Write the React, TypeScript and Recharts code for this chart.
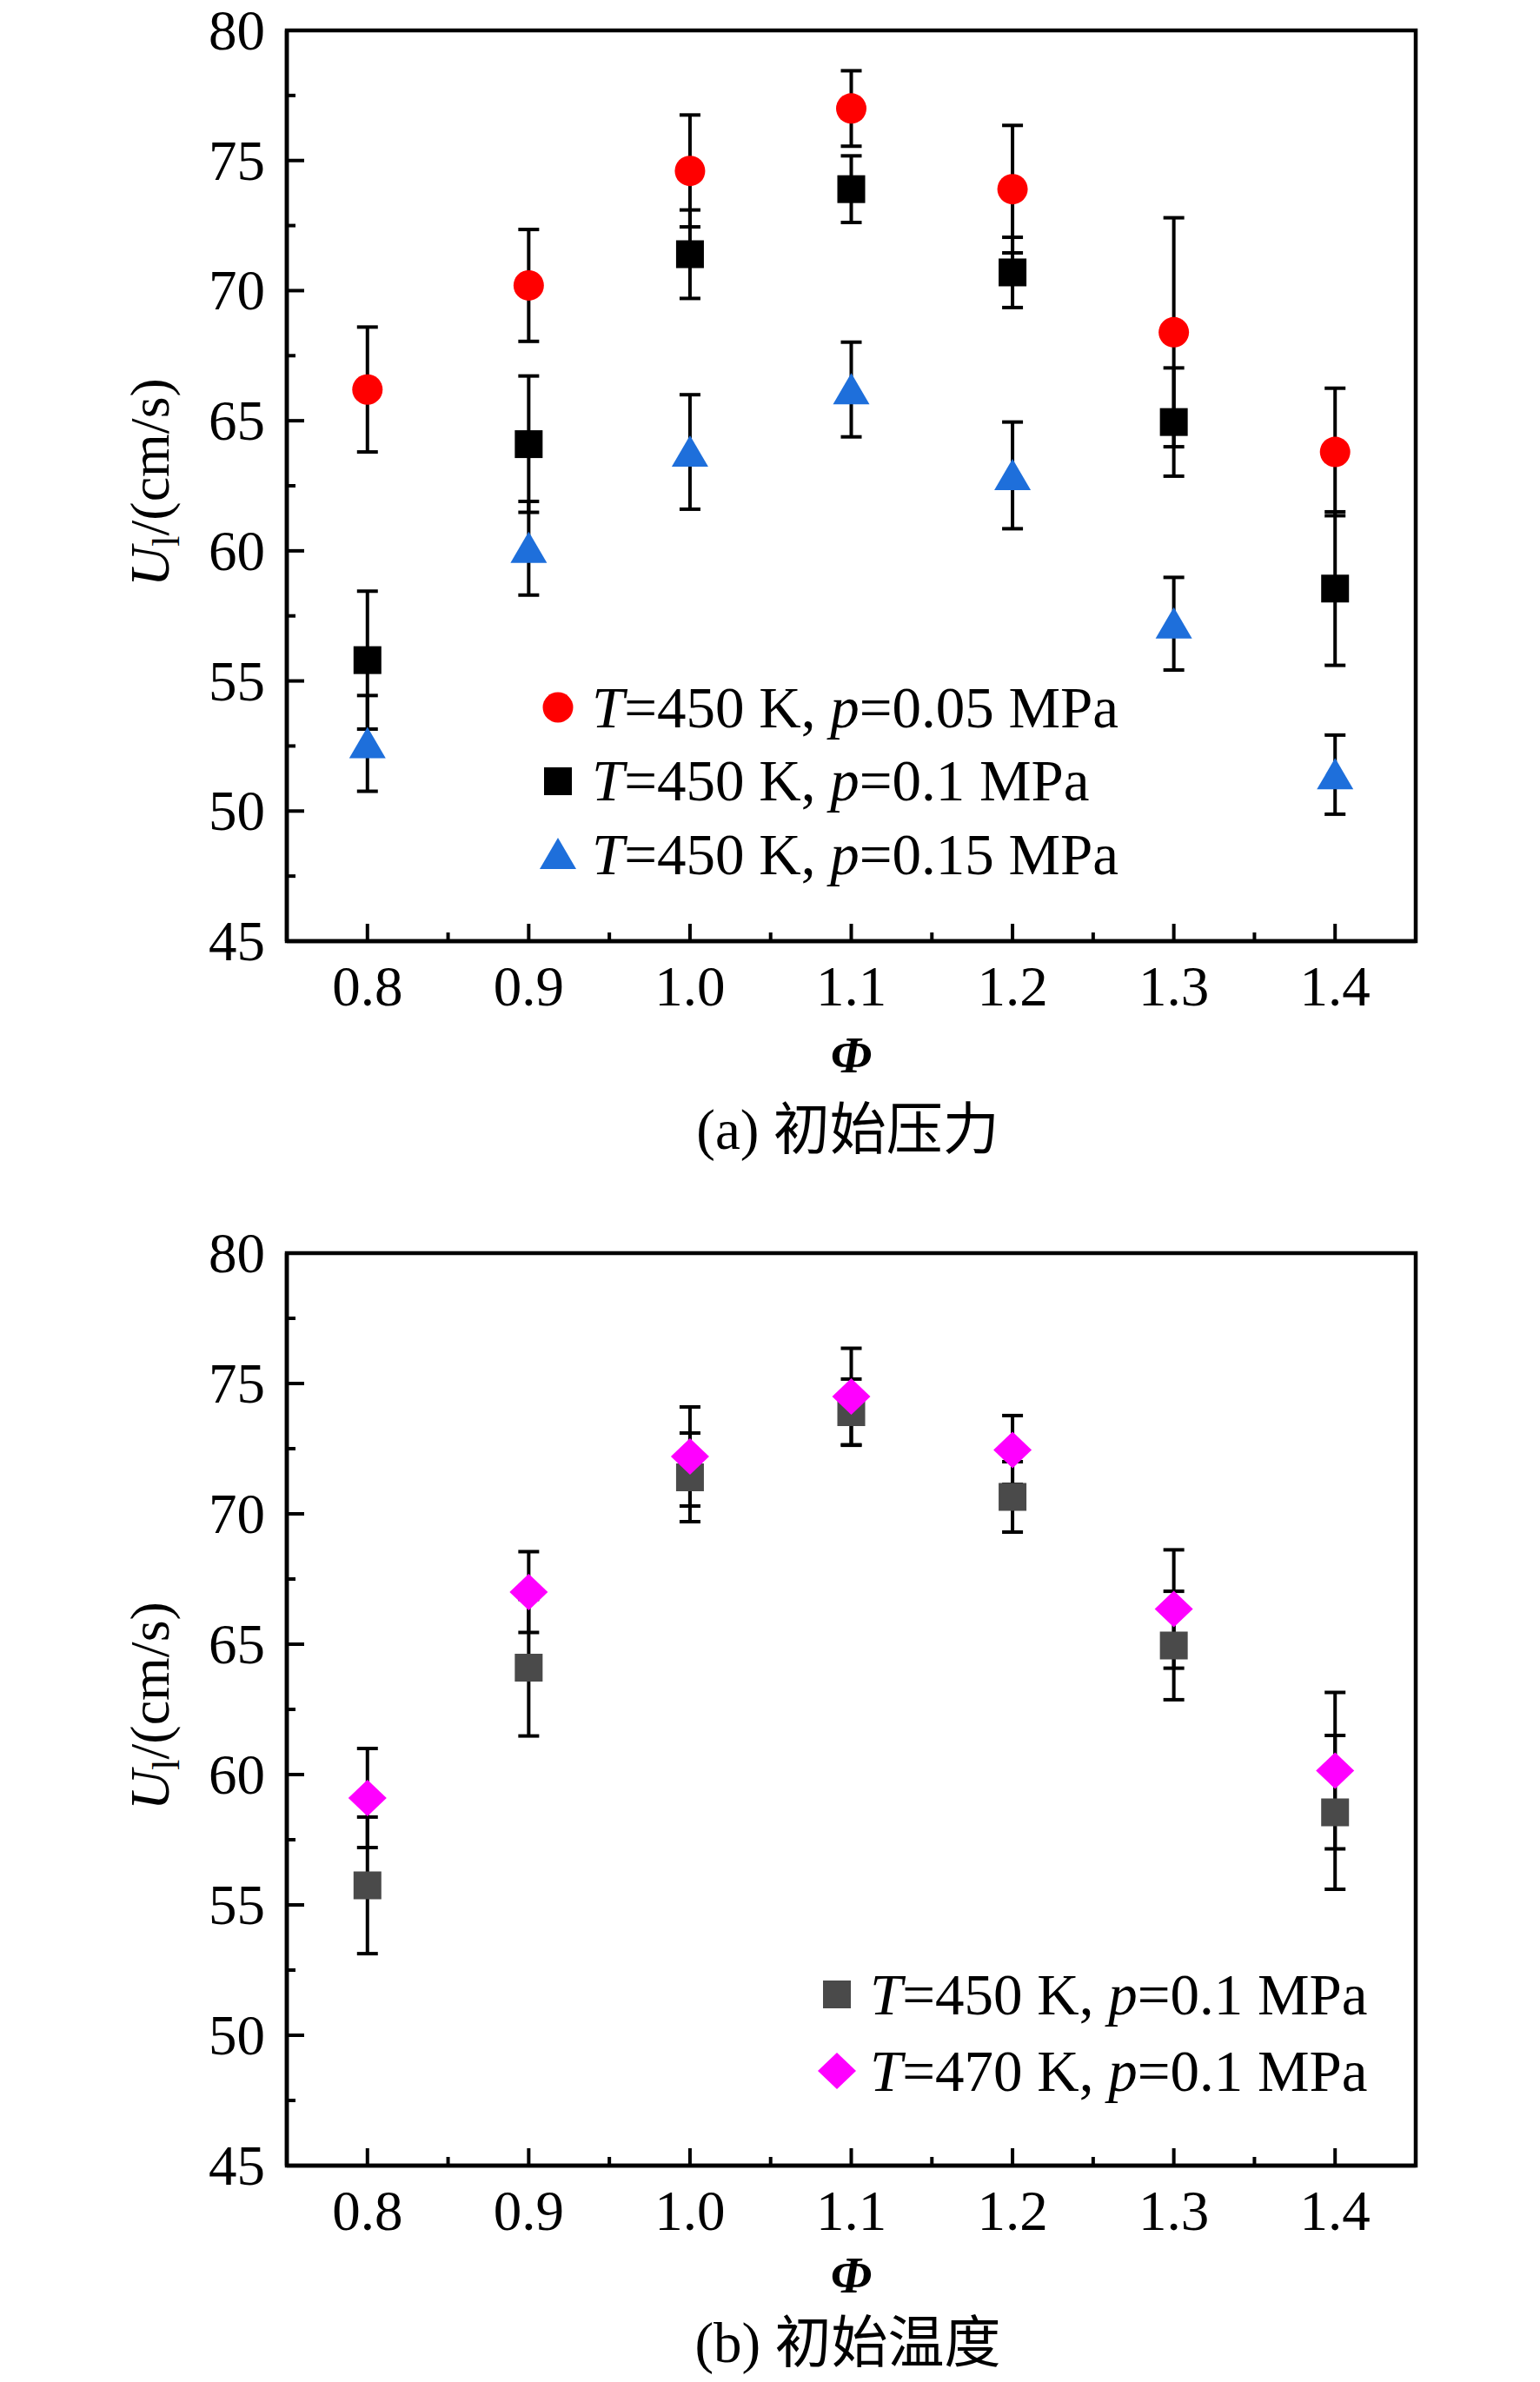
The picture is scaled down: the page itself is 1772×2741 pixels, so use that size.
import React from 'react';
import { ScatterChart, Scatter, XAxis, YAxis, ErrorBar, Legend, Label, ReferenceArea } from 'recharts';

const phi = [0.8, 0.9, 1.0, 1.1, 1.2, 1.3, 1.4];

// (a) 初始压力, T = 450 K
const ulP005 = [66.2, 70.2, 74.6, 77.0, 73.9, 68.4, 63.8];
const errP005 = [2.4, 2.15, 2.15, 1.45, 2.45, 4.4, 2.45];
const ulP01 = [55.8, 64.1, 71.4, 73.9, 70.7, 64.95, 58.55];
const errP01 = [2.65, 2.62, 1.7, 1.28, 1.35, 2.08, 2.95];
const ulP015 = [52.6, 60.1, 63.8, 66.2, 62.9, 57.2, 51.4];
const errP015 = [1.84, 1.8, 2.2, 1.82, 2.05, 1.78, 1.52];

// (b) 初始温度, p = 0.1 MPa
const ulT450 = [55.75, 64.1, 71.4, 73.9, 70.65, 64.95, 58.55];
const errT450 = [2.62, 2.62, 1.7, 1.27, 1.35, 2.08, 2.95];
const ulT470 = [59.1, 67.0, 72.2, 74.5, 72.45, 66.35, 60.15];
const errT470 = [1.9, 1.55, 1.9, 1.85, 1.32, 2.27, 3.0];

const xTicks = [0.8, 0.85, 0.9, 0.95, 1.0, 1.05, 1.1, 1.15, 1.2, 1.25, 1.3, 1.35, 1.4];
const yTicks = [45, 47.5, 50, 52.5, 55, 57.5, 60, 62.5, 65, 67.5, 70, 72.5, 75, 77.5, 80];

const SERIF = "'Liberation Serif', 'Times New Roman', serif";
const CJK = "'Liberation Serif', 'Noto Sans CJK SC', serif";

const rows = (ys: number[], errs: number[]) =>
  phi.map((x, i) => ({ x, y: ys[i], err: errs[i] }));

type Kind = 'circle' | 'square' | 'triangle' | 'diamond';

const Marker = ({ kind, color, cx, cy }: { kind: Kind; color: string; cx: number; cy: number }) => {
  if (kind === 'circle') return <circle cx={cx} cy={cy} r={17.5} fill={color} />;
  if (kind === 'square') return <rect x={cx - 16} y={cy - 16} width={32} height={32} fill={color} />;
  if (kind === 'triangle')
    return <polygon points={`${cx},${cy - 19} ${cx - 21},${cy + 17} ${cx + 21},${cy + 17}`} fill={color} />;
  return <polygon points={`${cx},${cy - 21} ${cx + 22},${cy} ${cx},${cy + 21} ${cx - 22},${cy}`} fill={color} />;
};

const seriesA = [
  { name: 'T=450 K, p=0.05 MPa', data: rows(ulP005, errP005), kind: 'circle' as Kind, color: '#ff0000' },
  { name: 'T=450 K, p=0.1 MPa', data: rows(ulP01, errP01), kind: 'square' as Kind, color: '#000000' },
  { name: 'T=450 K, p=0.15 MPa', data: rows(ulP015, errP015), kind: 'triangle' as Kind, color: '#1e6fdb' },
];

const seriesB = [
  { name: 'T=450 K, p=0.1 MPa', data: rows(ulT450, errT450), kind: 'square' as Kind, color: '#4a4a4a' },
  { name: 'T=470 K, p=0.1 MPa', data: rows(ulT470, errT470), kind: 'diamond' as Kind, color: '#ff00ff' },
];

const XTick = (props: any) => {
  const { x, y, payload } = props;
  const v = payload.value as number;
  const major = Math.round(v * 100) % 10 === 0;
  return (
    <g>
      <line x1={x} x2={x} y1={y} y2={y - (major ? 20 : 10)} stroke="#000" strokeWidth={4} />
      {major && (
        <text x={x} y={y + 74} textAnchor="middle" fontFamily={SERIF} fontSize={65} fill="#000">
          {v.toFixed(1)}
        </text>
      )}
    </g>
  );
};

const YTick = (props: any) => {
  const { x, y, payload } = props;
  const v = payload.value as number;
  const major = v % 5 === 0;
  return (
    <g>
      <line x1={x} x2={x + (major ? 20 : 10)} y1={y} y2={y} stroke="#000" strokeWidth={4} />
      {major && (
        <text x={x - 25} y={y + 22} textAnchor="end" fontFamily={SERIF} fontSize={65} fill="#000">
          {v}
        </text>
      )}
    </g>
  );
};

const YTitle = (props: any) => {
  const vb = props.viewBox;
  const cx = vb.x + 194;
  const cy = vb.y + vb.height / 2 - 4;
  return (
    <text x={cx} y={cy} transform={`rotate(-90 ${cx} ${cy})`} textAnchor="middle" fontFamily={SERIF} fontSize={64} fill="#000">
      <tspan fontStyle="italic">U</tspan>
      <tspan fontSize={44} dy={12}>l</tspan>
      <tspan dy={-12}>/(cm/s)</tspan>
    </text>
  );
};

const xTitle = (caption: string, phiDy: number, capDy: number) => (props: any) => {
  const vb = props.viewBox;
  const cx = vb.x + vb.width / 2;
  return (
    <g>
      <text x={cx} y={vb.y + phiDy} textAnchor="middle" fontFamily={SERIF} fontStyle="italic" fontWeight="bold" fontSize={60} fill="#000">
        Φ
      </text>
      <text x={cx - 4} y={vb.y + capDy} textAnchor="middle" fontFamily={CJK} fontSize={65} fill="#000">
        {caption}
      </text>
    </g>
  );
};

const italicName = (name: string) =>
  name.split(/([Tp])(?==)/).map((part, i) => (i % 2 === 1 ? <i key={i}>{part}</i> : <span key={i}>{part}</span>));

const makeLegend = (series: typeof seriesA, rowH: number, gap: number) => () => (
  <div style={{ fontFamily: SERIF, fontSize: 67, color: '#000' }}>
    {series.map((s) => (
      <div key={s.name} style={{ display: 'flex', alignItems: 'center', height: rowH }}>
        <svg width={44} height={44} style={{ marginRight: gap, flex: 'none' }}>
          <Marker kind={s.kind} color={s.color} cx={22} cy={22} />
        </svg>
        <span style={{ whiteSpace: 'nowrap', lineHeight: 1 }}>{italicName(s.name)}</span>
      </div>
    ))}
  </div>
);

const frame = { stroke: '#000', strokeWidth: 4.5 };

const Panel = ({
  series,
  height,
  margin,
  caption,
  phiDy,
  capDy,
  legendPos,
  rowH,
  gap,
}: {
  series: typeof seriesA;
  height: number;
  margin: { top: number; right: number; bottom: number; left: number };
  caption: string;
  phiDy: number;
  capDy: number;
  legendPos: { left: number; top: number };
  rowH: number;
  gap: number;
}) => (
  <ScatterChart width={1772} height={height} margin={margin}>
    <XAxis
      type="number"
      dataKey="x"
      domain={[0.75, 1.45]}
      ticks={xTicks}
      interval={0}
      allowDataOverflow
      height={120}
      tickSize={0}
      tickMargin={0}
      tickLine={false}
      tick={XTick}
      axisLine={frame}
    >
      <Label content={xTitle(caption, phiDy, capDy)} />
    </XAxis>
    <YAxis
      type="number"
      dataKey="y"
      domain={[45, 80]}
      ticks={yTicks}
      interval={0}
      allowDataOverflow
      width={330}
      tickSize={0}
      tickMargin={0}
      tickLine={false}
      tick={YTick}
      axisLine={frame}
    >
      <Label content={YTitle} />
    </YAxis>
    <ReferenceArea x1={0.75} x2={1.45} y1={45} y2={80} fill="none" fillOpacity={0} stroke="#000" strokeWidth={4.5} ifOverflow="visible" />
    {series.flatMap((s) => [
      <Scatter
        key={s.name + '-pts'}
        name={s.name}
        data={s.data}
        fill={s.color}
        isAnimationActive={false}
        shape={(p: any) => <Marker kind={s.kind} color={s.color} cx={p.cx} cy={p.cy} />}
      />,
      <Scatter
        key={s.name + '-err'}
        name={s.name + ' err'}
        data={s.data}
        legendType="none"
        isAnimationActive={false}
        shape={() => <g />}
      >
        <ErrorBar dataKey="err" direction="y" width={12} stroke="#000" strokeWidth={4} />
      </Scatter>,
    ])}
    <Legend
      layout="vertical"
      align="center"
      verticalAlign="middle"
      wrapperStyle={{ left: legendPos.left, top: legendPos.top, width: 'auto' }}
      content={makeLegend(series, rowH, gap)}
    />
  </ScatterChart>
);

export default function App() {
  return (
    <div style={{ position: 'absolute', left: 0, top: 0, width: 1772, height: 2741, background: '#fff', overflow: 'hidden' }}>
      <div style={{ position: 'absolute', left: 0, top: 0 }}>
        <Panel
          series={seriesA}
          height={1400}
          margin={{ top: 35, right: 143, bottom: 197, left: 0 }}
          caption="(a) 初始压力"
          phiDy={151}
          capDy={239}
          legendPos={{ left: 620, top: 772 }}
          rowH={84.5}
          gap={17}
        />
      </div>
      <div style={{ position: 'absolute', left: 0, top: 1400 }}>
        <Panel
          series={seriesB}
          height={1341}
          margin={{ top: 42, right: 143, bottom: 129, left: 0 }}
          caption="(b) 初始温度"
          phiDy={146}
          capDy={226}
          legendPos={{ left: 941, top: 851 }}
          rowH={88}
          gap={16}
        />
      </div>
    </div>
  );
}
